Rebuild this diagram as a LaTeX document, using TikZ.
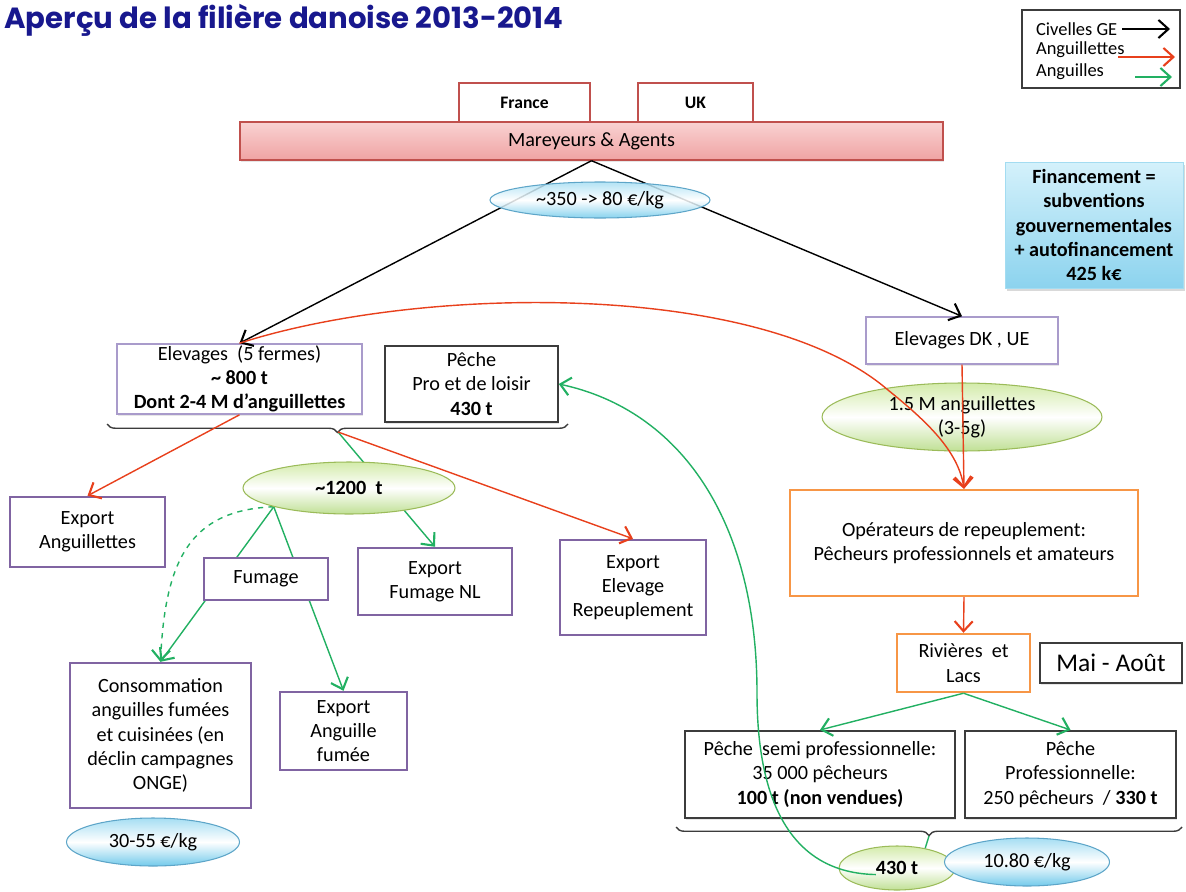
\documentclass[tikz,border=0pt]{standalone}
\usepackage{fontspec}
\setmainfont{Carlito}
\newfontfamily\titlefont{Poppins}
\usetikzlibrary{arrows.meta, shapes.geometric, decorations.pathreplacing, shadows, backgrounds}

\definecolor{titleBlue}{HTML}{18188E}
\definecolor{redA}{HTML}{E8401C}
\definecolor{greenA}{HTML}{22B062}
\definecolor{violetB}{HTML}{8064A2}
\definecolor{lilacB}{HTML}{A99BCB}
\definecolor{orangeB}{HTML}{F79646}
\definecolor{darkB}{HTML}{3C3C3C}
\definecolor{redB}{HTML}{C0504D}
\definecolor{pinkTop}{HTML}{F9D2D2}
\definecolor{pinkBot}{HTML}{EFA3A3}
\definecolor{blueTop}{HTML}{A6DEF3}
\definecolor{blueBot}{HTML}{72CAEB}
\definecolor{blueB}{HTML}{5DA5C8}
\definecolor{greenTop}{HTML}{D3EBAA}
\definecolor{greenBot}{HTML}{C0E095}
\definecolor{greenB}{HTML}{9BBB59}
\definecolor{finTop}{HTML}{D4F1FB}
\definecolor{finBot}{HTML}{8CD3EE}

\begin{document}
\begin{tikzpicture}[x=0.02cm, y=-0.02cm,
  >={Straight Barb[length=2mm, width=3.6mm, line width=1.2pt]},
  every node/.style={font=\fontsize{11.5}{13.8}\selectfont, inner sep=1pt, align=center},
  violet box/.style={draw=violetB, line width=1.4pt, fill=white},
  lilac box/.style={draw=lilacB, line width=0.8pt, fill=white,
    drop shadow={opacity=0.2, shadow xshift=0.7pt, shadow yshift=-0.9pt}},
  orange box/.style={draw=orangeB, line width=1.4pt, fill=white},
  dark box/.style={draw=darkB, line width=0.9pt, fill=white,
    drop shadow={opacity=0.2, shadow xshift=0.7pt, shadow yshift=-0.9pt}},
  red box/.style={draw=redB, line width=1.3pt, fill=white},
  blue oval/.style={ellipse, draw=blueB, line width=0.6pt, inner sep=0pt,
    top color=blueTop, bottom color=blueBot, middle color=white},
  green oval/.style={ellipse, draw=greenB, line width=0.6pt, inner sep=0pt,
    top color=greenTop, bottom color=greenBot, middle color=white},
  black arrow/.style={->, line width=0.8pt, black},
  red arrow/.style={->, line width=0.8pt, redA},
  green arrow/.style={->, line width=0.8pt, greenA},
  brace line/.style={decorate, decoration={brace, amplitude=0.17cm}, line width=0.8pt, darkB}
]
\useasboundingbox (0,0) rectangle (1186,892);

% titre
\node[anchor=west, inner sep=0pt, text=titleBlue,
  font=\titlefont\bfseries\fontsize{16.6}{20}\selectfont] (titre) at (4,20)
  {Aperçu de la filière danoise 2013-2014};

% legende
\node[draw=darkB, line width=0.8pt, minimum width=3.16cm, minimum height=1.56cm] (legende) at (1101,49) {};
\node[anchor=west, font=\fontsize{10.5}{12}\selectfont] (lgCiv) at (1034,29) {Civelles GE};
\node[anchor=west, font=\fontsize{10.5}{12}\selectfont] (lgAnglt) at (1034,50) {Anguillettes};
\node[anchor=west, font=\fontsize{10.5}{12}\selectfont] (lgAng) at (1034,72) {Anguilles};
\coordinate (civA) at (1122,29);
\coordinate (civB) at (1170,29);
\coordinate (angltA) at (1118,57);
\coordinate (angltB) at (1175,57);
\coordinate (angA) at (1135,77);
\coordinate (angB) at (1172,77);
\draw[black arrow, line width=1.1pt] (civA) -- (civB);
\draw[red arrow, line width=1.1pt] (angltA) -- (angltB);
\draw[green arrow, line width=1.1pt] (angA) -- (angB);

% mareyeurs
\node[red box, font=\bfseries\fontsize{10}{12}\selectfont, minimum width=2.62cm, minimum height=0.78cm] (france) at (524.5,102.5) {France};
\node[red box, font=\bfseries\fontsize{10}{12}\selectfont, minimum width=2.3cm, minimum height=0.78cm] (uk) at (695.5,102.5) {UK};
\node[draw=redB, line width=0.8pt, top color=pinkTop, bottom color=pinkBot,
  minimum width=14.06cm, minimum height=0.76cm,
  drop shadow={opacity=0.2, shadow xshift=0.7pt, shadow yshift=-0.9pt}] (mareyeurs) at (591.5,141) {Mareyeurs \& Agents};

\node[top color=finTop, bottom color=finBot, draw=finBot!80!white, line width=0.5pt,
  font=\bfseries\fontsize{11.5}{13.8}\selectfont,
  minimum width=3.56cm, minimum height=2.52cm,
  drop shadow={opacity=0.3, shadow xshift=1pt, shadow yshift=-1.5pt}] (financement) at (1094,225)
  {Financement =\\subventions\\gouvernementales\\+ autofinancement\\425 k€};

% elevages
\node[lilac box, minimum width=4.9cm, minimum height=1.38cm] (elev) at (239.5,379)
  {Elevages\ \ (5 fermes)\\\textbf{\textasciitilde\ 800 t}\\\textbf{Dont 2-4 M d’anguillettes}};
\node[dark box, minimum width=3.46cm, minimum height=1.52cm] (peche) at (471.5,384)
  {Pêche\\Pro et de loisir\\\textbf{430 t}};
\node[lilac box, minimum width=3.84cm, minimum height=0.94cm] (elevdk) at (962,340.5) {Elevages DK , UE};

\draw[black arrow] (mareyeurs.south) -- (elev.north);
\draw[black arrow] (mareyeurs.south) -- (elevdk.north);
\node[blue oval, fill opacity=0.85, text opacity=1, minimum width=4.4cm, minimum height=0.72cm] (prix1) at (600,200)
  {\textasciitilde 350 -> 80 €/kg};

\node[green oval, minimum width=5.6cm, minimum height=1.36cm] (angui) at (962,417)
  {1.5 M anguillettes\\(3-5g)};

% repeuplement
\node[orange box, minimum width=6.96cm, minimum height=2.12cm] (operateurs) at (964,543)
  {Opérateurs de repeuplement:\\Pêcheurs professionnels et amateurs};
\node[orange box, minimum width=2.66cm, minimum height=1.16cm] (rivieres) at (963.5,663) {Rivières\ \ et\\Lacs};
\node[dark box, font=\fontsize{14.5}{16}\selectfont, minimum width=2.84cm, minimum height=0.8cm] (mai) at (1111,663) {Mai - Août};
\node[dark box, line width=1.2pt, minimum width=5.4cm, minimum height=1.74cm] (semi) at (820,774.5)
  {Pêche\ \ semi professionnelle:\\35 000 pêcheurs\\\textbf{100 t (non vendues)}};
\node[dark box, line width=1.2pt, minimum width=4.22cm, minimum height=1.74cm] (pro) at (1070.5,774.5)
  {Pêche\\Professionnelle:\\250 pêcheurs\ \ / \textbf{330 t}};

\draw[red arrow] (elev.north) .. controls (420,285) and (760,280) .. (888,390)
  .. controls (925,420) and (958,450) .. (operateurs.north);
\draw[red arrow] (elevdk.south) -- (operateurs.north);
\draw[red arrow] (operateurs.south) -- (rivieres.north);
\draw[green arrow] (rivieres.south) -- (semi.north);
\draw[green arrow] (rivieres.south) -- (pro.north);

% accolades
\draw[brace line] (568,424) -- (107,424);
\coordinate (tip1) at (338,432);
\draw[brace line] (1182,827) -- (676,827);
\coordinate (tip2) at (929,836);

% produits
\node[violet box, minimum width=3.1cm, minimum height=1.4cm] (expAng) at (87.5,532) {Export\\Anguillettes};
\node[green oval, font=\bfseries\fontsize{11.5}{13.8}\selectfont, minimum width=4.24cm, minimum height=1.04cm] (total) at (349,488)
  {\textasciitilde 1200\ \ t};
\node[violet box, minimum width=3.08cm, minimum height=1.34cm] (expNL) at (435,581.5) {Export\\Fumage NL};
\node[violet box, minimum width=2.92cm, minimum height=1.9cm] (expRep) at (633,587.5) {Export\\Elevage\\Repeuplement};
\node[violet box, minimum width=3.62cm, minimum height=2.9cm] (conso) at (160.5,735.5)
  {Consommation\\anguilles fumées\\et cuisinées (en\\déclin campagnes\\ONGE)};
\node[violet box, minimum width=2.54cm, minimum height=1.56cm] (expFum) at (343.5,731) {Export\\Anguille\\fumée};
\node[violet box, minimum width=2.48cm, minimum height=0.84cm] (fumage) at (266,579) {Fumage};
\node[blue oval, minimum width=3.46cm, minimum height=0.96cm] (prix2) at (153,842) {30-55 €/kg};

\begin{pgfonlayer}{background}
\draw[green arrow] (tip1) -- (expNL.north);
\draw[green arrow] (total.194) -- (conso.north);
\draw[green arrow] (total.194) -- (expFum.north);
\draw[green arrow, dashed] (total.194) .. controls (190,510) and (165,560) .. (conso.north);
\end{pgfonlayer}

\draw[red arrow] (elev.south) -- (expAng.north);
\draw[red arrow] (tip1) -- (expRep.north);

% peche pro
\node[green oval, font=\bfseries\fontsize{11.5}{13.8}\selectfont, minimum width=2.32cm, minimum height=0.88cm] (tonnes) at (897,868) {430 t};
\node[blue oval, minimum width=3.3cm, minimum height=0.96cm] (prix3) at (1027,862) {10.80 €/kg};
\draw[green arrow, -] (tip2) -- (tonnes.35);
\draw[green arrow] (tonnes.text) .. controls (790,873) and (757,800) .. (757,693)
  .. controls (757,520) and (680,410) .. (peche.east);
\end{tikzpicture}
\end{document}
